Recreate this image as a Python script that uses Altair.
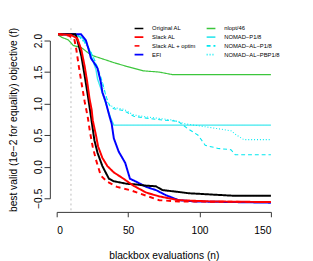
import altair as alt
import pandas as pd

# ---------------- data ----------------
series_order = ["Original AL", "Slack AL", "Slack AL + optim", "EFI",
                "nlopt/46", "NOMAD−P1/8", "NOMAD−AL−P1/8", "NOMAD−AL−PBP1/8"]

orig_n = [1, 13, 14, 17.3, 19.6, 21.8, 24.1, 26.4, 28.6, 32, 34.5, 36.6, 40, 49, 55, 62.7, 69.5, 74, 85.4, 92.3, 108, 124, 150]
orig_v = [2.1, 2.1, 2.05, 1.75, 1.44, 1.13, 0.78, 0.42, 0.22, 0.01, -0.1, -0.19, -0.23, -0.27, -0.28, -0.30, -0.31, -0.37, -0.40, -0.42, -0.44, -0.46, -0.46]

slack_n = [1, 10, 14.5, 17.3, 19.6, 21.4, 23, 24.5, 25.3, 27.5, 29, 32, 35.5, 40, 46.8, 53.7, 62.7, 71.8, 85.4, 108, 150]
slack_v = [2.1, 2.09, 2.03, 1.85, 1.59, 1.34, 1.08, 0.9, 0.73, 0.5, 0.32, 0.14, 0.01, -0.09, -0.19, -0.30, -0.41, -0.47, -0.53, -0.55, -0.56]

optim_n = [1, 8, 12.3, 13.8, 15.5, 17.3, 19.6, 21.8, 23.3, 25.2, 27.5, 30.9, 35.5, 42.3, 51.3, 62.7, 71.8, 85.4, 150]
optim_v = [2.1, 2.08, 2.03, 1.85, 1.59, 1.34, 1.03, 0.78, 0.55, 0.32, 0.11, -0.14, -0.24, -0.32, -0.37, -0.46, -0.53, -0.55, -0.56]

efi_n = [1, 17, 20.5, 22.5, 24, 26.4, 28.6, 30.9, 32, 34.3, 36.6, 38.5, 40, 43.4, 48, 51.3, 55.9, 62.7, 69.5, 76.4, 85.4, 96.8, 150]
efi_v = [2.1, 2.1, 2.0, 1.85, 1.72, 1.64, 1.56, 1.34, 1.18, 1.03, 0.83, 0.68, 0.45, 0.24, 0.06, -0.19, -0.24, -0.32, -0.37, -0.45, -0.53, -0.55, -0.57]

nlopt_n = [1, 3.6, 8.2, 11.6, 17.2, 24, 30.7, 40, 49, 60.5, 71.8, 81, 150]
nlopt_v = [2.09, 2.05, 2.01, 1.92, 1.89, 1.77, 1.72, 1.65, 1.59, 1.52, 1.50, 1.46, 1.46]

p18_n = [1, 13.8, 17.3, 19.6, 23, 25.2, 27.5, 28.6, 30.9, 33.2, 35.5, 37.7, 40, 150]
p18_v = [2.1, 2.08, 2.05, 2.0, 1.85, 1.69, 1.54, 1.39, 1.24, 1.08, 0.93, 0.78, 0.66, 0.66]

alp18_n = [1, 14, 18, 22, 26, 29, 32, 34.5, 37, 40, 47, 54, 63, 74, 85, 92, 99, 104, 113, 122, 125, 150]
alp18_v = [2.1, 2.1, 2.02, 1.9, 1.72, 1.55, 1.34, 1.12, 0.97, 0.92, 0.89, 0.8, 0.77, 0.74, 0.72, 0.6, 0.5, 0.34, 0.29, 0.27, 0.19, 0.19]

pbp18_n = [1, 12, 16, 20, 25, 28, 31, 34, 36, 40, 47, 54, 63, 81, 90, 108, 122, 126, 131, 150]
pbp18_v = [2.1, 2.1, 2.05, 1.95, 1.78, 1.6, 1.4, 1.17, 1.0, 0.94, 0.91, 0.82, 0.79, 0.74, 0.68, 0.62, 0.57, 0.5, 0.43, 0.43]

x_ticks = [0, 50, 100, 150]
y_ticks = [-0.5, 0.0, 0.5, 1.0, 1.5, 2.0]
marker_n = [10]

# ---------------- styles ----------------
colors = {"Original AL": "#000000", "nlopt/46": "#3CC63C", "Slack AL": "#FF0000",
          "NOMAD−P1/8": "#3EE8EE", "Slack AL + optim": "#FF0000",
          "NOMAD−AL−P1/8": "#00E8F0", "EFI": "#0000FF", "NOMAD−AL−PBP1/8": "#00ECF4"}
dashes = {"Original AL": [1, 0], "nlopt/46": [1, 0], "Slack AL": [1, 0],
          "NOMAD−P1/8": [1, 0], "Slack AL + optim": [5, 4],
          "NOMAD−AL−P1/8": [4, 3], "EFI": [1, 0], "NOMAD−AL−PBP1/8": [1, 2]}
widths = {"Original AL": 2, "nlopt/46": 1.2, "Slack AL": 2, "NOMAD−P1/8": 1.4,
          "Slack AL + optim": 2, "NOMAD−AL−P1/8": 1.1, "EFI": 2, "NOMAD−AL−PBP1/8": 1.1}

draw_order = [("nlopt/46", nlopt_n, nlopt_v), ("NOMAD−P1/8", p18_n, p18_v),
              ("NOMAD−AL−P1/8", alp18_n, alp18_v), ("NOMAD−AL−PBP1/8", pbp18_n, pbp18_v),
              ("EFI", efi_n, efi_v), ("Original AL", orig_n, orig_v),
              ("Slack AL", slack_n, slack_v), ("Slack AL + optim", optim_n, optim_v)]

rows = []
for name, ns, vs in draw_order:
    for n, v in zip(ns, vs):
        rows.append({"series": name, "n": n, "v": v, "w": widths[name]})
df = pd.DataFrame(rows)

marker_df = pd.DataFrame({"n": marker_n, "v": [-0.69], "hi": [2.21]})

FONT = "Liberation Sans"

legend = alt.Legend(orient="none", legendX=79, legendY=-18, columns=2, title=None,
                    labelFontSize=6, labelFont=FONT, labelColor="#000000",
                    symbolType="stroke", symbolSize=81, symbolStrokeWidth=1.6,
                    labelOffset=8, columnPadding=6, rowPadding=-1.5)

xscale = alt.Scale(domain=[0, 150], nice=False, zero=False)
yscale = alt.Scale(domain=[-0.5, 2.0], nice=False, zero=False)

xaxis = alt.Axis(values=x_ticks, title="blackbox evaluations (n)", offset=14,
                 tickSize=5, labelPadding=9, titlePadding=15, grid=False,
                 labelOverlap=False)
yaxis = alt.Axis(values=y_ticks, format=".1f", labelAngle=-90, offset=7,
                 tickSize=6, labelPadding=1, titlePadding=15, grid=False,
                 labelOverlap=False, labelBound=False,
                 title="best valid (1e−2 for equality) objective (f)")

lines = alt.Chart(df).mark_line(clip=False).encode(
    x=alt.X("n:Q", scale=xscale, axis=xaxis),
    y=alt.Y("v:Q", scale=yscale, axis=yaxis),
    color=alt.Color("series:N", scale=alt.Scale(domain=series_order,
                                                range=[colors[s] for s in series_order]),
                    legend=legend),
    strokeDash=alt.StrokeDash("series:N", scale=alt.Scale(domain=series_order,
                                                          range=[dashes[s] for s in series_order]),
                              legend=legend),
    strokeWidth=alt.StrokeWidth("w:Q", scale=None),
)

marker = alt.Chart(marker_df).mark_rule(color="#BBBBBB", strokeDash=[2, 3], strokeWidth=1, clip=False).encode(
    x=alt.X("n:Q", scale=xscale, axis=xaxis),
    y=alt.Y("v:Q", scale=yscale, axis=yaxis),
    y2="hi:Q",
)

chart = alt.layer(marker, lines).properties(
    width=220, height=162,
    padding={"left": 50, "top": 30, "right": 35, "bottom": 61},
    autosize=alt.AutoSizeParams(type="none"),
    background="white",
).configure_view(stroke=None).configure_axis(
    labelFont=FONT, titleFont=FONT, labelFontSize=10.5, titleFontSize=10.5,
    labelColor="#000000", titleColor="#000000", titleFontWeight="normal",
    domainColor="#333333", tickColor="#333333", domainWidth=1, tickWidth=1,
    labelOverlap=False,
)

chart.save("out.html", embed_options={"renderer": "svg", "actions": False})
